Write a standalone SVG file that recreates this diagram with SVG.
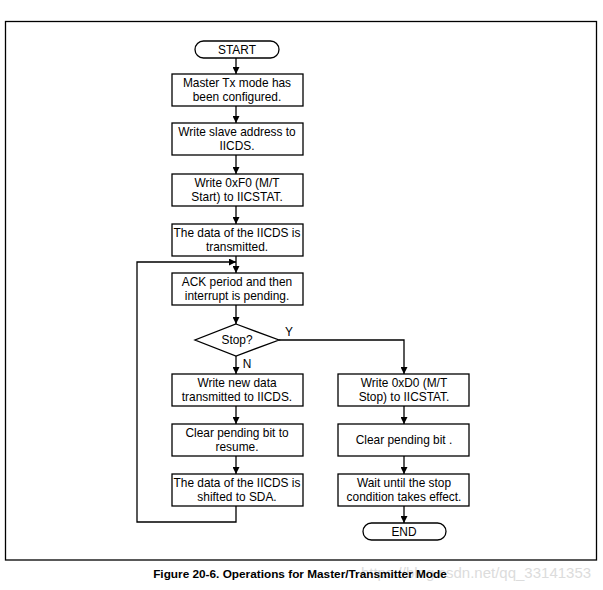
<svg xmlns="http://www.w3.org/2000/svg" width="603" height="590" viewBox="0 0 603 590">
<defs>
<style>
.b{fill:#fff;stroke:#000;stroke-width:1.3}
.t{font-family:"Liberation Sans",Arial,sans-serif;font-size:11.9px;fill:#000;text-anchor:middle}
.c{fill:none;stroke:#000;stroke-width:1.3}
</style>
<marker id="ah" viewBox="0 0 10 10" refX="10" refY="5" markerWidth="7" markerHeight="7" markerUnits="userSpaceOnUse" orient="auto"><path d="M0,0 L10,5 L0,10 z" fill="#000"/></marker>
</defs>
<rect width="603" height="590" fill="#fff"/>
<rect x="5.5" y="21.5" width="591" height="538.5" fill="none" stroke="#000" stroke-width="1.3"/>
<g id="connectors">
<path class="c" d="M236,58 V74" marker-end="url(#ah)"/>
<path class="c" d="M236,106 V123" marker-end="url(#ah)"/>
<path class="c" d="M236,155 V174" marker-end="url(#ah)"/>
<path class="c" d="M236,206 V224" marker-end="url(#ah)"/>
<path class="c" d="M236,256 V273" marker-end="url(#ah)"/>
<path class="c" d="M236,305 V324" marker-end="url(#ah)"/>
<path class="c" d="M236,356 V374" marker-end="url(#ah)"/>
<path class="c" d="M236,406 V424" marker-end="url(#ah)"/>
<path class="c" d="M236,456 V474" marker-end="url(#ah)"/>
<path class="c" d="M236,506 V522 H137 V262 H236" marker-end="url(#ah)"/>
<path class="c" d="M279,340 H404 V374" marker-end="url(#ah)"/>
<path class="c" d="M404,406 V424" marker-end="url(#ah)"/>
<path class="c" d="M404,456 V474" marker-end="url(#ah)"/>
<path class="c" d="M404,506 V523" marker-end="url(#ah)"/>
<text class="t" x="289" y="336">Y</text>
<text class="t" x="247" y="368">N</text>
</g>
<g id="start"><rect class="b" x="195" y="41" width="84" height="17" rx="8.5"/><text class="t" x="237" y="53.5">START</text></g>
<g id="n1"><rect class="b" x="172" y="74" width="131" height="32"/><text class="t" x="237" y="87">Master Tx mode has</text><text class="t" x="237" y="101">been configured.</text></g>
<g id="n2"><rect class="b" x="172" y="123" width="131" height="32"/><text class="t" x="237" y="136">Write slave address to</text><text class="t" x="237" y="150">IICDS.</text></g>
<g id="n3"><rect class="b" x="172" y="174" width="131" height="32"/><text class="t" x="237" y="187">Write 0xF0 (M/T</text><text class="t" x="237" y="201">Start) to IICSTAT.</text></g>
<g id="n4"><rect class="b" x="172" y="224" width="131" height="32"/><text class="t" x="237" y="237">The data of the IICDS is</text><text class="t" x="237" y="251">transmitted.</text></g>
<g id="n5"><rect class="b" x="172" y="273" width="131" height="32"/><text class="t" x="237" y="286">ACK period and then</text><text class="t" x="237" y="300">interrupt is pending.</text></g>
<g id="d1"><polygon class="b" points="236,324 279,340 236,356 195,340"/><text class="t" x="237" y="344">Stop?</text></g>
<g id="n6"><rect class="b" x="172" y="374" width="131" height="32"/><text class="t" x="237" y="387">Write new data</text><text class="t" x="237" y="401">transmitted to IICDS.</text></g>
<g id="n7"><rect class="b" x="172" y="424" width="131" height="32"/><text class="t" x="237" y="437">Clear pending bit to</text><text class="t" x="237" y="451">resume.</text></g>
<g id="n8"><rect class="b" x="172" y="474" width="131" height="32"/><text class="t" x="237" y="487">The data of the IICDS is</text><text class="t" x="237" y="501">shifted to SDA.</text></g>
<g id="r1"><rect class="b" x="338" y="374" width="131" height="32"/><text class="t" x="404" y="387">Write 0xD0 (M/T</text><text class="t" x="404" y="401">Stop) to IICSTAT.</text></g>
<g id="r2"><rect class="b" x="338" y="424" width="131" height="32"/><text class="t" x="404" y="444">Clear pending bit .</text></g>
<g id="r3"><rect class="b" x="338" y="474" width="131" height="32"/><text class="t" x="404" y="487">Wait until the stop</text><text class="t" x="404" y="501">condition takes effect.</text></g>
<g id="end"><rect class="b" x="363" y="523" width="83" height="17" rx="8.5"/><text class="t" x="404" y="535.5">END</text></g>
<text x="476" y="578" style="font-family:'Liberation Sans',Arial,sans-serif;font-size:15px;fill:#dcdcdc;text-anchor:middle">https://blog.csdn.net/qq_33141353</text>
<text x="300" y="578" style="font-family:'Liberation Sans',Arial,sans-serif;font-size:11.8px;font-weight:bold;fill:#000;text-anchor:middle">Figure 20-6. Operations for Master/Transmitter Mode</text>
</svg>
